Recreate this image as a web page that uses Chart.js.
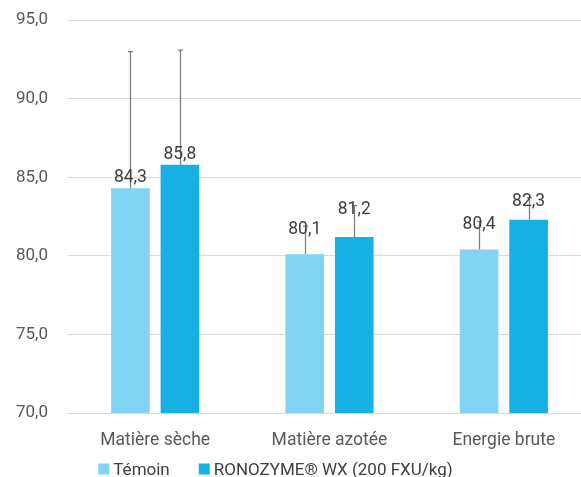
<!DOCTYPE html>
<html>
<head>
<meta charset="utf-8">
<script src="https://cdn.jsdelivr.net/npm/chart.js@4/dist/chart.umd.min.js"></script>
<style>
  html, body { margin: 0; padding: 0; background: #fff; overflow: hidden; }
  #wrap { position: relative; width: 591px; height: 499px; margin-top: -10px; }
</style>
</head>
<body>
<div id="wrap"><canvas id="c"></canvas></div>
<script>
const categories = ['Matière sèche', 'Matière azotée', 'Energie brute'];
const seriesNames = ['Témoin', 'RONOZYME® WX (200 FXU/kg)'];
const temoin = [84.3, 80.1, 80.4];
const ronozyme = [85.8, 81.2, 82.3];
const temoinErr = [8.7, 1.8, 1.8];
const ronozymeErr = [7.3, 2.0, 1.4];
const yMin = 70, yMax = 95, yStep = 5;

const FONT = 'Roboto, "Noto Sans", sans-serif';
const fmt = v => v.toFixed(1).replace('.', ',');

const errorBars = {
  id: 'errorBars',
  afterDatasetsDraw(chart) {
    const ctx = chart.ctx;
    const y = chart.scales.y;
    ctx.save();
    chart.data.datasets.forEach((ds, di) => {
      const meta = chart.getDatasetMeta(di);
      meta.data.forEach((bar, i) => {
        const top = y.getPixelForValue(ds.data[i] + ds.errors[i]);
        const x = Math.round(bar.x) + 0.5;
        ctx.strokeStyle = '#7f7f7f';
        ctx.lineWidth = 1.3;
        ctx.beginPath();
        ctx.moveTo(x, bar.y);
        ctx.lineTo(x, top);
        ctx.moveTo(x - 2.5, top);
        ctx.lineTo(x + 2.5, top);
        ctx.stroke();
      });
    });
    ctx.restore();
  }
};

const valueLabels = {
  id: 'valueLabels',
  afterDraw(chart) {
    const ctx = chart.ctx;
    const y = chart.scales.y;
    ctx.save();
    ctx.font = '17.5px ' + FONT;
    ctx.fillStyle = '#404040';
    ctx.textAlign = 'center';
    ctx.textBaseline = 'alphabetic';
    chart.data.datasets.forEach((ds, di) => {
      const meta = chart.getDatasetMeta(di);
      meta.data.forEach((bar, i) => {
        const errTop = y.getPixelForValue(ds.data[i] + ds.errors[i]);
        // short error bars: label sits on the error-bar end; long ones: label above the bar
        const base = (bar.y - errTop) < 50 ? errTop + 8 : bar.y - 6;
        ctx.fillText(fmt(ds.data[i]), bar.x, base);
      });
    });
    ctx.restore();
  }
};

const bottomLegend = {
  id: 'bottomLegend',
  afterDraw(chart) {
    const ctx = chart.ctx;
    const box = 11, gap = 4, spacing = 29, centerX = 275.5;
    const midY = chart.chartArea.bottom + 56;
    ctx.save();
    ctx.font = '17px ' + FONT;
    const items = chart.data.datasets.map(ds => ({ text: ds.label, color: ds.backgroundColor, w: ctx.measureText(ds.label).width }));
    const total = items.reduce((s, it) => s + box + gap + it.w, 0) + spacing * (items.length - 1);
    let x = centerX - total / 2;
    ctx.textBaseline = 'alphabetic';
    ctx.textAlign = 'left';
    items.forEach(it => {
      ctx.fillStyle = it.color;
      ctx.fillRect(x, midY - box / 2, box, box);
      x += box + gap;
      ctx.fillStyle = '#404040';
      ctx.fillText(it.text, x, midY + 6);
      x += it.w + spacing;
    });
    ctx.restore();
  }
};

new Chart(document.getElementById('c'), {
  type: 'bar',
  data: {
    labels: categories,
    datasets: [
      { label: seriesNames[0], data: temoin, errors: temoinErr, backgroundColor: '#83D3F3',
        categoryPercentage: 0.568, barPercentage: 0.78 },
      { label: seriesNames[1], data: ronozyme, errors: ronozymeErr, backgroundColor: '#17B0E5',
        categoryPercentage: 0.568, barPercentage: 0.78 }
    ]
  },
  options: {
    responsive: true,
    maintainAspectRatio: false,
    animation: false,
    layout: { padding: { top: 9, right: 0, left: 0, bottom: 29 } },
    plugins: {
      legend: { display: false },
      tooltip: { enabled: false }
    },
    scales: {
      x: {
        grid: { display: false },
        border: { display: false },
        ticks: { color: '#595959', font: { family: FONT, size: 17.5 }, padding: 9, maxRotation: 0 }
      },
      y: {
        min: yMin, max: yMax,
        grid: { color: '#d9d9d9', lineWidth: 1, drawTicks: false },
        border: { display: false },
        ticks: {
          stepSize: yStep, padding: 20, color: '#595959',
          font: { family: FONT, size: 17 },
          callback: v => fmt(v)
        },
        afterFit(scale) { scale.width = 68; }
      }
    }
  },
  plugins: [errorBars, valueLabels, bottomLegend]
});
</script>
</body>
</html>
